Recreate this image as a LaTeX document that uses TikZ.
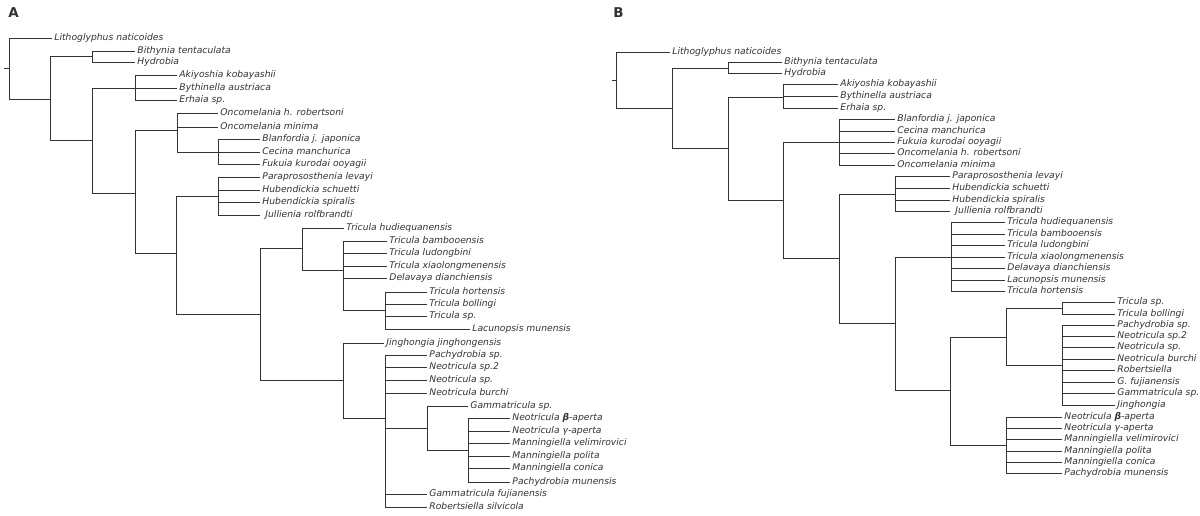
\documentclass[tikz,border=0pt]{standalone}
\usepackage{fontspec}
\setmainfont{DejaVu Sans}

\begin{document}
\begin{tikzpicture}[x=1pt,y=-1pt,line width=0.9pt,color=black!80]
\tikzstyle{leaf}=[anchor=west,inner xsep=2pt,inner ysep=0pt,text height=5.4pt,text depth=0pt,font=\fontsize{9.2}{11}\selectfont\itshape]
\tikzstyle{panel}=[anchor=base west,inner sep=0pt,font=\fontsize{13.5}{16}\selectfont\bfseries]
\useasboundingbox (0,0) rectangle (1200,515);

\node[panel] (labA) at (8,17) {A};
\node[panel] (labB) at (613,17) {B};

% tree A
\coordinate (stubA) at (4,68);
\coordinate (rootA) at (9,68);
\coordinate (iA1) at (50,99);
\coordinate (bithgA) at (92,56);
\coordinate (iA2) at (92,140);
\coordinate (akiygA) at (135,88);
\coordinate (iA3) at (135,193);
\coordinate (oncgA) at (177,130);
\coordinate (blangA) at (218,152);
\coordinate (iA4) at (176,253);
\coordinate (paragA) at (218,196);
\coordinate (iA5) at (260,314);
\coordinate (tricgA) at (302,248);
\coordinate (tbamgA) at (343,270);
\coordinate (thorgA) at (385,310);
\coordinate (jinggA) at (343,380);
\coordinate (pachgA) at (385,418);
\coordinate (gamgA) at (427,428);
\coordinate (neogA) at (468,450);

\node[leaf] (lithA) at (52,38) {Lithoglyphus naticoides};
\node[leaf] (bithA) at (135,51) {Bithynia tentaculata};
\node[leaf] (hydrA) at (135,62) {Hydrobia};
\node[leaf] (akiyA) at (177,75) {Akiyoshia kobayashii};
\node[leaf] (bythA) at (177,88) {Bythinella austriaca};
\node[leaf] (erhaA) at (177,100) {Erhaia sp.};
\node[leaf] (oncrA) at (218,113) {Oncomelania h. robertsoni};
\node[leaf] (oncmA) at (218,127) {Oncomelania minima};
\node[leaf] (blanA) at (260,139) {Blanfordia j. japonica};
\node[leaf] (ceciA) at (260,152) {Cecina manchurica};
\node[leaf] (fukuA) at (260,164) {Fukuia kurodai ooyagii};
\node[leaf] (paraA) at (260,177) {Paraprososthenia levayi};
\node[leaf] (hubsA) at (260,190) {Hubendickia schuetti};
\node[leaf] (hubpA) at (260,202) {Hubendickia spiralis};
\node[leaf] (julA) at (260,215) {\hspace{3pt}Jullienia rolfbrandti};
\node[leaf] (thudA) at (344,228) {Tricula hudiequanensis};
\node[leaf] (tbamA) at (387,241) {Tricula bambooensis};
\node[leaf] (tludA) at (387,253) {Tricula ludongbini};
\node[leaf] (txiaA) at (387,266) {Tricula xiaolongmenensis};
\node[leaf] (delaA) at (387,278) {Delavaya dianchiensis};
\node[leaf] (thorA) at (427,292) {Tricula hortensis};
\node[leaf] (tbolA) at (427,304) {Tricula bollingi};
\node[leaf] (tspA) at (427,316) {Tricula sp.};
\node[leaf] (lacuA) at (470,329) {Lacunopsis munensis};
\node[leaf] (jingA) at (384,343) {Jinghongia jinghongensis};
\node[leaf] (pachA) at (427,355) {Pachydrobia sp.};
\node[leaf] (nsp2A) at (427,367) {Neotricula sp.2};
\node[leaf] (nspA) at (427,380) {Neotricula sp.};
\node[leaf] (nburA) at (427,393) {Neotricula burchi};
\node[leaf] (gspA) at (468,406) {Gammatricula sp.};
\node[leaf] (nbetA) at (510,418) {Neotricula \textbf{β}-aperta};
\node[leaf] (ngamA) at (510,431) {Neotricula γ-aperta};
\node[leaf] (mvelA) at (510,443) {Manningiella velimirovici};
\node[leaf] (mpolA) at (510,456) {Manningiella polita};
\node[leaf] (mconA) at (510,468) {Manningiella conica};
\node[leaf] (pmunA) at (510,482) {Pachydrobia munensis};
\node[leaf] (gfujA) at (427,494) {Gammatricula fujianensis};
\node[leaf] (robA) at (427,507) {Robertsiella silvicola};

\draw (stubA) -- (rootA);
\draw (rootA) |- (lithA.west) (rootA) |- (iA1);
\draw (iA1) |- (bithgA) (iA1) |- (iA2);
\draw (bithgA) |- (bithA.west) (bithgA) |- (hydrA.west);
\draw (iA2) |- (akiygA) (iA2) |- (iA3);
\draw (akiygA) |- (akiyA.west) (akiygA) |- (bythA.west) (akiygA) |- (erhaA.west);
\draw (iA3) |- (oncgA) (iA3) |- (iA4);
\draw (oncgA) |- (oncrA.west) (oncgA) |- (oncmA.west) (oncgA) |- (blangA);
\draw (blangA) |- (blanA.west) (blangA) |- (ceciA.west) (blangA) |- (fukuA.west);
\draw (iA4) |- (paragA) (iA4) |- (iA5);
\draw (paragA) |- (paraA.west) (paragA) |- (hubsA.west) (paragA) |- (hubpA.west) (paragA) |- (julA.west);
\draw (iA5) |- (tricgA) (iA5) |- (jinggA);
\draw (tricgA) |- (thudA.west) (tricgA) |- (tbamgA);
\draw (tbamgA) |- (tbamA.west) (tbamgA) |- (tludA.west) (tbamgA) |- (txiaA.west) (tbamgA) |- (delaA.west) (tbamgA) |- (thorgA);
\draw (thorgA) |- (thorA.west) (thorgA) |- (tbolA.west) (thorgA) |- (tspA.west) (thorgA) |- (lacuA.west);
\draw (jinggA) |- (jingA.west) (jinggA) |- (pachgA);
\draw (pachgA) |- (pachA.west) (pachgA) |- (nsp2A.west) (pachgA) |- (nspA.west) (pachgA) |- (nburA.west)
  (pachgA) |- (gamgA) (pachgA) |- (gfujA.west) (pachgA) |- (robA.west);
\draw (gamgA) |- (gspA.west) (gamgA) |- (neogA);
\draw (neogA) |- (nbetA.west) (neogA) |- (ngamA.west) (neogA) |- (mvelA.west) (neogA) |- (mpolA.west)
  (neogA) |- (mconA.west) (neogA) |- (pmunA.west);

% tree B
\coordinate (stubB) at (612,80);
\coordinate (rootB) at (616,80);
\coordinate (iB1) at (672,108);
\coordinate (bithgB) at (728,68);
\coordinate (iB2) at (728,148);
\coordinate (akiygB) at (783,97);
\coordinate (iB3) at (783,200);
\coordinate (blangB) at (839,142);
\coordinate (iB4) at (839,258);
\coordinate (paragB) at (895,194);
\coordinate (iB5) at (895,323);
\coordinate (tricgB) at (951,257);
\coordinate (iB6) at (950,390);
\coordinate (iB7) at (1006,337);
\coordinate (tspgB) at (1062,308);
\coordinate (pachgB) at (1062,365);
\coordinate (neogB) at (1006,445);

\node[leaf] (lithB) at (670,52) {Lithoglyphus naticoides};
\node[leaf] (bithB) at (782,62) {Bithynia tentaculata};
\node[leaf] (hydrB) at (782,73) {Hydrobia};
\node[leaf] (akiyB) at (838,84) {Akiyoshia kobayashii};
\node[leaf] (bythB) at (838,96) {Bythinella austriaca};
\node[leaf] (erhaB) at (838,108) {Erhaia sp.};
\node[leaf] (blanB) at (895,119) {Blanfordia j. japonica};
\node[leaf] (ceciB) at (895,131) {Cecina manchurica};
\node[leaf] (fukuB) at (895,142) {Fukuia kurodai ooyagii};
\node[leaf] (oncrB) at (895,153) {Oncomelania h. robertsoni};
\node[leaf] (oncmB) at (895,165) {Oncomelania minima};
\node[leaf] (paraB) at (950,176) {Paraprososthenia levayi};
\node[leaf] (hubsB) at (950,188) {Hubendickia schuetti};
\node[leaf] (hubpB) at (950,200) {Hubendickia spiralis};
\node[leaf] (julB) at (950,211) {\hspace{3pt}Jullienia rolfbrandti};
\node[leaf] (thudB) at (1005,222) {Tricula hudiequanensis};
\node[leaf] (tbamB) at (1005,234) {Tricula bambooensis};
\node[leaf] (tludB) at (1005,245) {Tricula ludongbini};
\node[leaf] (txiaB) at (1005,257) {Tricula xiaolongmenensis};
\node[leaf] (delaB) at (1005,268) {Delavaya dianchiensis};
\node[leaf] (lacuB) at (1005,280) {Lacunopsis munensis};
\node[leaf] (thorB) at (1005,291) {Tricula hortensis};
\node[leaf] (tspB) at (1115,302) {Tricula sp.};
\node[leaf] (tbolB) at (1115,314) {Tricula bollingi};
\node[leaf] (pachB) at (1115,325) {Pachydrobia sp.};
\node[leaf] (nsp2B) at (1115,336) {Neotricula sp.2};
\node[leaf] (nspB) at (1115,347) {Neotricula sp.};
\node[leaf] (nburB) at (1115,359) {Neotricula burchi};
\node[leaf] (robB) at (1115,370) {Robertsiella};
\node[leaf] (gfujB) at (1115,382) {G. fujianensis};
\node[leaf] (gspB) at (1115,393) {Gammatricula sp.};
\node[leaf] (jingB) at (1115,405) {Jinghongia};
\node[leaf] (nbetB) at (1062,417) {Neotricula \textbf{β}-aperta};
\node[leaf] (ngamB) at (1062,428) {Neotricula γ-aperta};
\node[leaf] (mvelB) at (1062,439) {Manningiella velimirovici};
\node[leaf] (mpolB) at (1062,451) {Manningiella polita};
\node[leaf] (mconB) at (1062,462) {Manningiella conica};
\node[leaf] (pmunB) at (1062,473) {Pachydrobia munensis};

\draw (stubB) -- (rootB);
\draw (rootB) |- (lithB.west) (rootB) |- (iB1);
\draw (iB1) |- (bithgB) (iB1) |- (iB2);
\draw (bithgB) |- (bithB.west) (bithgB) |- (hydrB.west);
\draw (iB2) |- (akiygB) (iB2) |- (iB3);
\draw (akiygB) |- (akiyB.west) (akiygB) |- (bythB.west) (akiygB) |- (erhaB.west);
\draw (iB3) |- (blangB) (iB3) |- (iB4);
\draw (blangB) |- (blanB.west) (blangB) |- (ceciB.west) (blangB) |- (fukuB.west) (blangB) |- (oncrB.west) (blangB) |- (oncmB.west);
\draw (iB4) |- (paragB) (iB4) |- (iB5);
\draw (paragB) |- (paraB.west) (paragB) |- (hubsB.west) (paragB) |- (hubpB.west) (paragB) |- (julB.west);
\draw (iB5) |- (tricgB) (iB5) |- (iB6);
\draw (tricgB) |- (thudB.west) (tricgB) |- (tbamB.west) (tricgB) |- (tludB.west) (tricgB) |- (txiaB.west)
  (tricgB) |- (delaB.west) (tricgB) |- (lacuB.west) (tricgB) |- (thorB.west);
\draw (iB6) |- (iB7) (iB6) |- (neogB);
\draw (iB7) |- (tspgB) (iB7) |- (pachgB);
\draw (tspgB) |- (tspB.west) (tspgB) |- (tbolB.west);
\draw (pachgB) |- (pachB.west) (pachgB) |- (nsp2B.west) (pachgB) |- (nspB.west) (pachgB) |- (nburB.west)
  (pachgB) |- (robB.west) (pachgB) |- (gfujB.west) (pachgB) |- (gspB.west) (pachgB) |- (jingB.west);
\draw (neogB) |- (nbetB.west) (neogB) |- (ngamB.west) (neogB) |- (mvelB.west) (neogB) |- (mpolB.west)
  (neogB) |- (mconB.west) (neogB) |- (pmunB.west);
\end{tikzpicture}
\end{document}
